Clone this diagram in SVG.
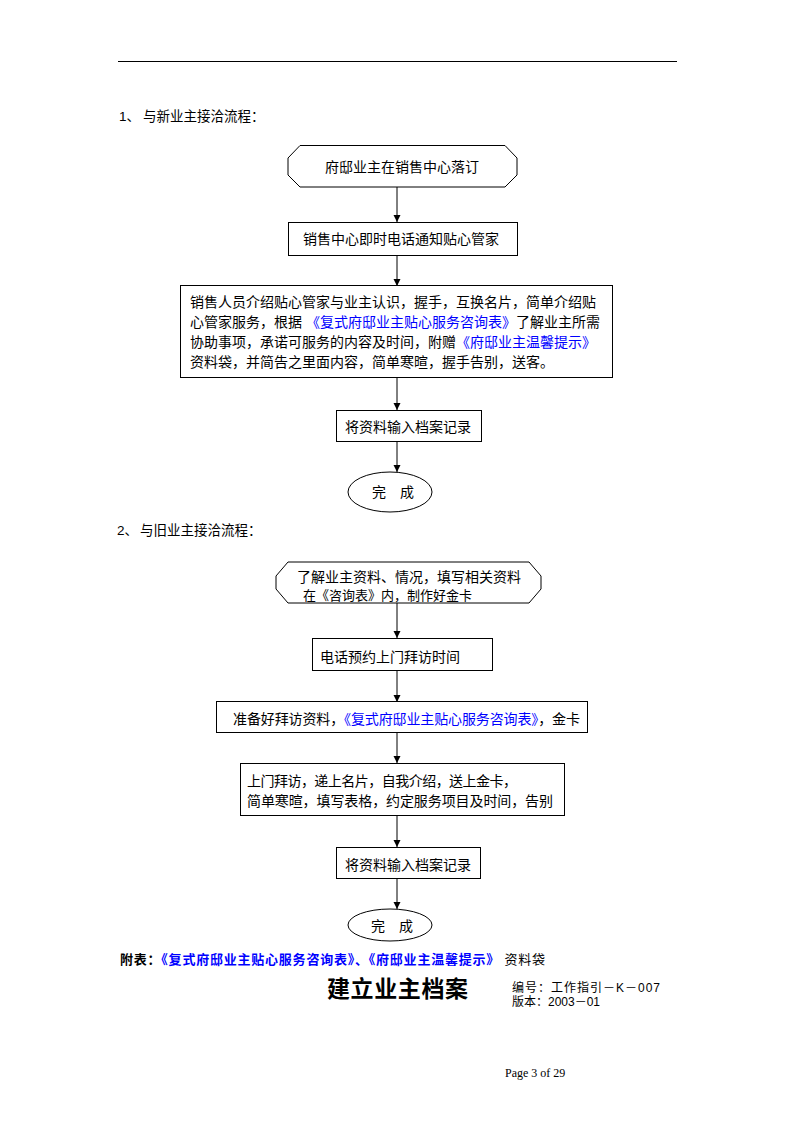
<svg xmlns="http://www.w3.org/2000/svg" width="794" height="1123" viewBox="0 0 794 1123">
<style>
.t{font-family:"Liberation Sans","Noto Sans CJK SC",sans-serif;font-size:14px;fill:#000}
.h{font-size:13.5px}
.s{font-size:12px}
.m{font-size:13px}
.ttl{font-size:23px;font-weight:bold}
.b{fill:#0000ff}
.box{fill:#fff;stroke:#000;stroke-width:1}
.ln{stroke:#000;stroke-width:1;fill:none}
</style>
<defs>
<marker id="ah" markerWidth="8" markerHeight="8" refX="7" refY="4" orient="auto" markerUnits="userSpaceOnUse">
<path d="M0,0.5 L7,4 L0,7.5 Z" fill="#000"/>
</marker>
</defs>
<rect width="794" height="1123" fill="#fff"/>
<line x1="118" y1="61.5" x2="677" y2="61.5" stroke="#000" stroke-width="1"/>

<text class="t h" x="119" y="121">1、<tspan x="143">与新业主接洽流程：</tspan></text>
<text class="t h" x="117" y="535">2、<tspan x="140">与旧业主接洽流程：</tspan></text>

<g id="connectors">
<line class="ln" x1="397" y1="187" x2="397" y2="222" marker-end="url(#ah)"/>
<line class="ln" x1="397" y1="255" x2="397" y2="286" marker-end="url(#ah)"/>
<line class="ln" x1="397" y1="378" x2="397" y2="410" marker-end="url(#ah)"/>
<line class="ln" x1="397" y1="442" x2="397" y2="472" marker-end="url(#ah)"/>
<line class="ln" x1="397" y1="603" x2="397" y2="638" marker-end="url(#ah)"/>
<line class="ln" x1="397" y1="670" x2="397" y2="702" marker-end="url(#ah)"/>
<line class="ln" x1="397" y1="732" x2="397" y2="763" marker-end="url(#ah)"/>
<line class="ln" x1="397" y1="815" x2="397" y2="847" marker-end="url(#ah)"/>
<line class="ln" x1="397" y1="878" x2="397" y2="909" marker-end="url(#ah)"/>
</g>

<g id="n1">
<path class="box" d="M300,145.5 L505,145.5 L517,158 L517,175 L505,187 L300,187 L288,175 L288,158 Z"/>
<text class="t" x="325" y="172">府邸业主在销售中心落订</text>
</g>
<g id="n2">
<rect class="box" x="288.5" y="222.5" width="229" height="33"/>
<text class="t" x="303" y="244">销售中心即时电话通知贴心管家</text>
</g>
<g id="n3">
<rect class="box" x="180.5" y="285.5" width="432" height="92"/>
<text class="t" x="190" y="307">销售人员介绍贴心管家与业主认识，握手，互换名片，简单介绍贴</text>
<text class="t" x="190" y="327">心管家服务，根据 <tspan class="b">《复式府邸业主贴心服务咨询表》</tspan>了解业主所需</text>
<text class="t" x="190" y="347">协助事项，承诺可服务的内容及时间，附赠<tspan class="b">《府邸业主温馨提示》</tspan></text>
<text class="t" x="190" y="367">资料袋，并简告之里面内容，简单寒暄，握手告别，送客。</text>
</g>
<g id="n4">
<rect class="box" x="336.5" y="410.5" width="145" height="31"/>
<text class="t" x="345" y="432">将资料输入档案记录</text>
</g>
<g id="n5">
<ellipse class="box" cx="390" cy="492" rx="42" ry="20"/>
<text class="t" x="372" y="497">完　成</text>
</g>

<g id="n6">
<path class="box" d="M288,562 L529,562 L541,576 L541,589 L529,603 L288,603 L276,589 L276,576 Z"/>
<text class="t" x="297" y="582">了解业主资料、情况，填写相关资料</text>
<text class="t m" x="303" y="600">在《咨询表》内，制作好金卡</text>
</g>
<g id="n7">
<rect class="box" x="312.5" y="638.5" width="180" height="32"/>
<text class="t" x="320" y="662">电话预约上门拜访时间</text>
</g>
<g id="n8">
<rect class="box" x="216.5" y="701.5" width="371" height="31"/>
<text class="t" x="233" y="724" textLength="347" lengthAdjust="spacing">准备好拜访资料，<tspan class="b">《复式府邸业主贴心服务咨询表》</tspan>，金卡</text>
</g>
<g id="n9">
<rect class="box" x="240.5" y="763.5" width="324" height="52"/>
<text class="t" x="247" y="786" textLength="270" lengthAdjust="spacing">上门拜访，递上名片，自我介绍，送上金卡，</text>
<text class="t" x="247" y="806" textLength="306" lengthAdjust="spacing">简单寒暄，填写表格，约定服务项目及时间，告别</text>
</g>
<g id="n10">
<rect class="box" x="336.5" y="847.5" width="144" height="31"/>
<text class="t" x="345" y="870">将资料输入档案记录</text>
</g>
<g id="n11">
<ellipse class="box" cx="390" cy="925" rx="42" ry="16"/>
<text class="t" x="371" y="931">完　成</text>
</g>

<text class="t m" x="120" y="964" textLength="425" lengthAdjust="spacing"><tspan font-weight="bold">附表：</tspan><tspan class="b" font-weight="bold">《复式府邸业主贴心服务咨询表》、《府邸业主温馨提示》</tspan> 资料袋</text>

<text class="t ttl" x="327" y="997" textLength="141" lengthAdjust="spacing">建立业主档案</text>
<text class="t s" x="512" y="992" textLength="148" lengthAdjust="spacing">编号：工作指引－K－007</text>
<text class="t s" x="512" y="1006">版本：2003－01</text>

<text x="505" y="1077" font-family="'Liberation Serif',serif" font-size="12" fill="#000">Page 3 of 29</text>
</svg>
